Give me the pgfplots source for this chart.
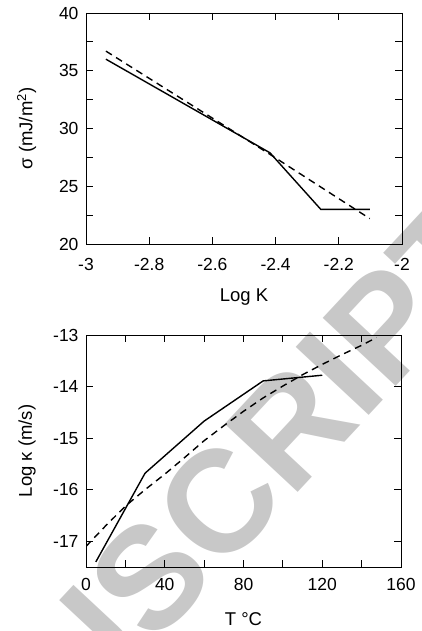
\documentclass[border=0pt]{standalone}
\usepackage{fontspec}
\setmainfont{Liberation Sans}
\usepackage{pgfplots}
\pgfplotsset{compat=1.18}
\definecolor{wm}{RGB}{200,200,200}
\begin{document}
\begin{tikzpicture}
\useasboundingbox (0,0) rectangle (422pt,-631pt);
\begin{scope}
\clip (0,0) rectangle (422pt,-631pt);
\node[rotate=47, anchor=base east, inner sep=0, text=wm, font=\fontsize{145}{145}\selectfont\bfseries] at (219.5pt,-575.8pt) {MANUS};
\node[rotate=47, anchor=base west, inner sep=0, text=wm, font=\fontsize{145}{145}\selectfont\bfseries] at (219.5pt,-575.8pt) {CRIPT};
\end{scope}
\pgfplotsset{every axis/.append style={
  scale only axis,
  axis line style={line width=0.8pt},
  tick style={line width=0.8pt, black},
  major tick length=7pt, minor tick length=7pt,
  tick align=inside, tick pos=both,
  ticklabel style={font=\fontsize{17.5}{20}\selectfont},
  label style={font=\fontsize{18.5}{22}\selectfont},
  yticklabel style={xshift=-4pt},
}}
\begin{axis}[at={(86pt,-244pt)}, anchor=south west, width=316pt, height=231pt,
  xmin=-3, xmax=-2, ymin=20, ymax=40,
  xtick={-3,-2.8,-2.6,-2.4,-2.2,-2},
  xticklabels={-3,-2.8,-2.6,-2.4,-2.2,-2},
  ytick={20,25,30,35,40}, yticklabels={20,25,30,35,40},
  minor ytick={22.5,27.5,32.5,37.5},
  xticklabel style={yshift=-11pt},
  xlabel={Log K}, ylabel={σ (mJ/m\textsuperscript{2})},
  xlabel style={at={(axis description cs:0.5,-0.249)}, anchor=base},
  ylabel style={at={(axis description cs:-0.17,0.5)}, anchor=base},
]
\addplot[black, line width=1.4pt] coordinates {(-2.937,36.0) (-2.418,27.9) (-2.257,23.0) (-2.102,23.0)};
\addplot[black, line width=1.4pt, dash pattern=on 7pt off 5pt] coordinates {(-2.937,36.7) (-2.42,27.8) (-2.102,22.2)};
\end{axis}
\begin{axis}[at={(86pt,-567pt)}, anchor=south west, width=315pt, height=232pt,
  xmin=0, xmax=160, ymin=-17.5, ymax=-13,
  xtick={0,40,80,120,160}, xticklabels={0,40,80,120,160},
  minor xtick={20,60,100,140},
  ytick={-17,-16,-15,-14,-13}, yticklabels={-17,-16,-15,-14,-13},
  xticklabel style={yshift=-8pt},
  xlabel={T °C}, ylabel={Log κ (m/s)},
  xlabel style={at={(axis description cs:0.5,-0.25)}, anchor=base},
  ylabel style={at={(axis description cs:-0.172,0.5)}, anchor=base},
]
\addplot[black, line width=1.4pt] coordinates {(5,-17.4) (30,-15.68) (60,-14.67) (90,-13.89) (120,-13.78)};
\addplot[black, line width=1.4pt, dash pattern=on 7pt off 5pt] coordinates {(0,-17.1) (10,-16.7) (20,-16.32) (30,-16.0) (40,-15.7) (50,-15.38) (60,-15.05) (70,-14.76) (80,-14.48) (90,-14.22) (100,-13.99) (110,-13.77) (120,-13.57) (130,-13.38) (140,-13.2) (147.5,-13.05)};
\end{axis}
\end{tikzpicture}
\end{document}
